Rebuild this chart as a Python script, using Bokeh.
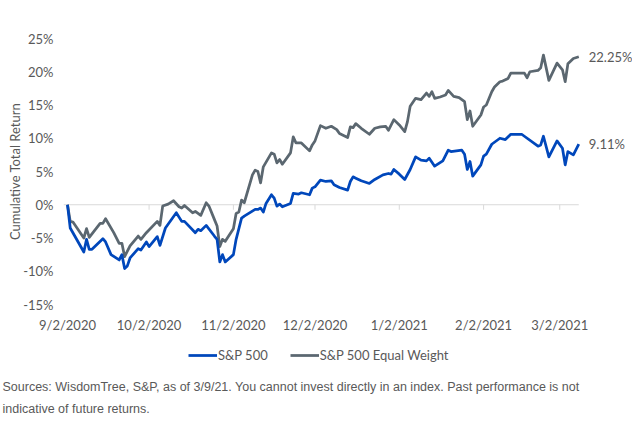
import pandas as pd
from bokeh.plotting import figure
from bokeh.layouts import column
from bokeh.models import (Range1d, FixedTicker, PrintfTickFormatter, Legend, LegendItem,
                          Title, Label, ColumnDataSource)
from bokeh.core.properties import value
from bokeh.embed import file_html
from bokeh.resources import INLINE

# ---------------- data ----------------
eq_dates = ["2020-09-02", "2020-09-03", "2020-09-04", "2020-09-08", "2020-09-09", "2020-09-10",
            "2020-09-14", "2020-09-15", "2020-09-16", "2020-09-19", "2020-09-21", "2020-09-22",
            "2020-09-23", "2020-09-25", "2020-09-28", "2020-09-29", "2020-10-01", "2020-10-05",
            "2020-10-06", "2020-10-07", "2020-10-09", "2020-10-11", "2020-10-13", "2020-10-14",
            "2020-10-15", "2020-10-18", "2020-10-19", "2020-10-21", "2020-10-23", "2020-10-24",
            "2020-10-26", "2020-10-27", "2020-10-28", "2020-10-29", "2020-10-30", "2020-11-02",
            "2020-11-03", "2020-11-04", "2020-11-05", "2020-11-06", "2020-11-09", "2020-11-10",
            "2020-11-11", "2020-11-12", "2020-11-13", "2020-11-16", "2020-11-17", "2020-11-18",
            "2020-11-19", "2020-11-20", "2020-11-23", "2020-11-24", "2020-11-25", "2020-11-27",
            "2020-11-30", "2020-12-01", "2020-12-02", "2020-12-04", "2020-12-06", "2020-12-08",
            "2020-12-10", "2020-12-11", "2020-12-14", "2020-12-15", "2020-12-16", "2020-12-17",
            "2020-12-19", "2020-12-22", "2020-12-24", "2020-12-26", "2020-12-28", "2020-12-29",
            "2020-12-31", "2021-01-02", "2021-01-04", "2021-01-05", "2021-01-06", "2021-01-08",
            "2021-01-10", "2021-01-12", "2021-01-13", "2021-01-14", "2021-01-15", "2021-01-17",
            "2021-01-19", "2021-01-20", "2021-01-22", "2021-01-24", "2021-01-26", "2021-01-27",
            "2021-01-28", "2021-01-29", "2021-02-01", "2021-02-02", "2021-02-03", "2021-02-05",
            "2021-02-06", "2021-02-08", "2021-02-09", "2021-02-11", "2021-02-12", "2021-02-17",
            "2021-02-18", "2021-02-19", "2021-02-22", "2021-02-23", "2021-02-24", "2021-02-26",
            "2021-03-01", "2021-03-03", "2021-03-04", "2021-03-05", "2021-03-07", "2021-03-09"]
eq_values = [0.0, -2.5, -2.6, -5.0, -3.6, -4.9,
             -2.8, -2.8, -2.1, -4.2, -5.8, -5.8,
             -7.8, -6.2, -4.7, -5.2, -4.2, -2.5,
             -3.1, -0.2, 0.1, 0.6, -0.3, -0.5,
             -0.1, -1.2, -1.0, -1.6, 0.3, -0.2,
             -2.2, -3.2, -6.3, -5.2, -5.5, -3.6,
             -1.3, -1.1, 0.7, 0.3, 4.5, 5.2,
             5.0, 3.3, 5.7, 7.8, 7.6, 6.3,
             6.8, 6.1, 7.8, 10.2, 9.3, 9.3,
             8.1, 9.0, 9.6, 11.9, 11.5, 11.8,
             11.3, 10.7, 10.1, 11.7, 11.6, 12.2,
             11.5, 10.6, 11.5, 11.7, 11.8, 11.2,
             12.8, 12.0, 11.0, 12.5, 14.8, 16.0,
             15.8, 16.8, 16.3, 17.0, 16.0, 16.2,
             16.5, 17.2, 16.3, 16.1, 15.5, 12.8,
             14.1, 11.8, 13.5, 14.7, 15.0, 17.0,
             17.7, 18.5, 18.6, 19.0, 19.8, 19.8,
             19.1, 20.0, 20.2, 20.6, 22.5, 18.7,
             21.3, 20.3, 18.5, 21.2, 22.0, 22.25]

sp_dates = ["2020-09-02", "2020-09-03", "2020-09-08", "2020-09-09", "2020-09-10", "2020-09-11",
            "2020-09-15", "2020-09-16", "2020-09-18", "2020-09-21", "2020-09-22", "2020-09-23",
            "2020-09-24", "2020-09-25", "2020-09-28", "2020-09-29", "2020-10-01", "2020-10-02",
            "2020-10-05", "2020-10-06", "2020-10-08", "2020-10-12", "2020-10-14", "2020-10-15",
            "2020-10-19", "2020-10-20", "2020-10-21", "2020-10-23", "2020-10-26", "2020-10-27",
            "2020-10-28", "2020-10-29", "2020-10-30", "2020-11-02", "2020-11-03", "2020-11-05",
            "2020-11-06", "2020-11-10", "2020-11-11", "2020-11-12", "2020-11-13", "2020-11-14",
            "2020-11-16", "2020-11-17", "2020-11-18", "2020-11-19", "2020-11-20", "2020-11-23",
            "2020-11-24", "2020-11-26", "2020-11-27", "2020-11-30", "2020-12-01", "2020-12-02",
            "2020-12-04", "2020-12-06", "2020-12-08", "2020-12-09", "2020-12-11", "2020-12-14",
            "2020-12-15", "2020-12-16", "2020-12-17", "2020-12-19", "2020-12-22", "2020-12-24",
            "2020-12-27", "2020-12-29", "2020-12-30", "2020-12-31", "2021-01-02", "2021-01-04",
            "2021-01-06", "2021-01-08", "2021-01-10", "2021-01-12", "2021-01-13", "2021-01-15",
            "2021-01-18", "2021-01-20", "2021-01-21", "2021-01-23", "2021-01-25", "2021-01-26",
            "2021-01-27", "2021-01-28", "2021-01-29", "2021-02-01", "2021-02-02", "2021-02-03",
            "2021-02-05", "2021-02-08", "2021-02-10", "2021-02-12", "2021-02-16", "2021-02-17",
            "2021-02-22", "2021-02-23", "2021-02-24", "2021-02-26", "2021-03-01", "2021-03-03",
            "2021-03-04", "2021-03-05", "2021-03-07", "2021-03-09"]
sp_values = [0.0, -3.5, -7.1, -5.2, -6.7, -6.7,
             -5.1, -5.6, -7.5, -8.3, -7.5, -9.6,
             -9.2, -8.0, -6.6, -6.8, -5.6, -6.3,
             -4.8, -6.1, -3.5, -1.2, -2.5, -2.5,
             -4.2, -3.7, -3.9, -3.1, -4.7, -5.2,
             -8.6, -7.5, -8.6, -7.5, -5.2, -2.0,
             -1.7, -0.7, -0.7, -0.5, -1.1, 0.2,
             1.5, 1.0, -0.2, 0.1, -0.3, 0.2,
             1.7, 1.6, 1.8, 1.5, 2.5, 2.7,
             3.7, 3.5, 3.6, 3.0, 2.6, 2.2,
             3.5, 4.2, 4.0, 3.6, 3.2, 3.8,
             4.5, 4.7, 4.6, 5.3, 4.6, 3.8,
             5.3, 7.2, 6.7, 6.6, 7.0, 5.8,
             6.6, 8.2, 8.0, 8.1, 8.2, 7.6,
             5.3, 6.5, 4.3, 6.0, 7.3, 7.6,
             9.1, 10.0, 9.8, 10.6, 10.6, 10.3,
             8.8, 9.0, 10.3, 7.2, 9.6, 8.5,
             6.0, 8.0, 7.5, 9.11]

series_names = ["S&P 500", "S&P 500 Equal Weight"]
tick_dates = ["2020-09-02", "2020-10-02", "2020-11-02", "2020-12-02",
              "2021-01-02", "2021-02-02", "2021-03-02"]
tick_labels = ["9/2/2020", "10/2/2020", "11/2/2020", "12/2/2020",
               "1/2/2021", "2/2/2021", "3/2/2021"]
y_ticks = [-15, -10, -5, 0, 5, 10, 15, 20, 25]
y_title = "Cumulative Total Return"
source_lines = ["Sources: WisdomTree, S&P, as of 3/9/21. You cannot invest directly in an index. Past performance is not",
                "indicative of future returns."]

# ---------------- style / layout constants ----------------
BLUE = "#0047BB"
GRAY = "#5B6770"
TXT = "#595959"
FONT = "Lato"
W, H_CHART, H_FOOT = 632, 335, 92
FRAME_LEFT, FRAME_TOP, FRAME_BOTTOM = 63, 38, 305

eq_x = pd.to_datetime(eq_dates)
sp_x = pd.to_datetime(sp_dates)
tk_x = pd.to_datetime(tick_dates)

x_start = pd.Timestamp("2020-08-31 12:40")
x_end = pd.Timestamp("2021-03-28 18:00")

# ---------------- chart ----------------
p = figure(width=W, height=H_CHART, x_axis_type="datetime", output_backend="svg",
           toolbar_location=None, x_range=Range1d(x_start, x_end), y_range=Range1d(-15, 25),
           min_border_left=FRAME_LEFT, min_border_right=0, min_border_top=FRAME_TOP,
           min_border_bottom=H_CHART - FRAME_BOTTOM)
p.frame_align = False
p.outline_line_color = None
p.grid.visible = False
p.background_fill_color = "white"
p.border_fill_color = "white"

# zero line and tick marks
p.segment(x0=[x_start], y0=[0], x1=[sp_x[-1]], y1=[0], line_color="#D9D9D9", line_width=1)
p.segment(x0=tk_x, y0=0, x1=tk_x, y1=-0.75, line_color="#D9D9D9", line_width=1)

p.line(eq_x, eq_values, line_color=GRAY, line_width=2.75, line_join="round")
p.line(sp_x, sp_values, line_color=BLUE, line_width=2.75, line_join="round")

# end labels
end_src = ColumnDataSource(dict(x=[eq_x[-1], sp_x[-1]], y=[eq_values[-1], sp_values[-1]],
                                t=["%.2f%%" % eq_values[-1], "%.2f%%" % sp_values[-1]]))
p.text(x="x", y="y", text="t", source=end_src, x_offset=10, text_align="left",
       text_baseline="middle", text_color=TXT, text_font=value(FONT), text_font_size="13px")

xa = p.xaxis[0]
xa.ticker = FixedTicker(ticks=[t.timestamp() * 1000 for t in tk_x])
xa.major_label_overrides = {t.timestamp() * 1000: lab for t, lab in zip(tk_x, tick_labels)}
xa.axis_line_color = None
xa.major_tick_line_color = None
xa.minor_tick_line_color = None
xa.major_tick_out = 0
xa.minor_tick_out = 0
xa.major_label_standoff = 12
xa.major_label_text_font = FONT
xa.major_label_text_font_size = "13px"
xa.major_label_text_color = TXT

ya = p.yaxis[0]
ya.ticker = FixedTicker(ticks=y_ticks)
ya.formatter = PrintfTickFormatter(format="%d%%")
ya.axis_line_color = None
ya.major_tick_line_color = None
ya.minor_tick_line_color = None
ya.major_tick_out = 0
ya.minor_tick_out = 0
ya.major_label_standoff = 10
ya.major_label_text_font = FONT
ya.major_label_text_font_size = "13px"
ya.major_label_text_color = TXT

p.add_layout(Title(text=y_title, align="center",
                   offset=(FRAME_TOP + FRAME_BOTTOM) / 2 - 153, standoff=-5,
                   text_font=FONT, text_font_size="13px", text_font_style="normal",
                   text_color=TXT), "left")

# ---------------- footer: legend + source note ----------------
f = figure(width=W, height=H_FOOT, x_axis_type=None, y_axis_type=None, output_backend="svg",
           toolbar_location=None, x_range=Range1d(0, 1), y_range=Range1d(0, 1),
           min_border=0)
f.frame_align = False
f.outline_line_color = None
f.grid.visible = False
f.background_fill_color = "white"
f.border_fill_color = "white"

# legend keys: the same two series (outside this strip's view, only their swatches show)
k_sp = f.line(sp_x, sp_values, line_color=BLUE, line_width=2.75)
k_eq = f.line(eq_x, eq_values, line_color=GRAY, line_width=2.75)
legend = Legend(items=[LegendItem(label=series_names[0], renderers=[k_sp]),
                       LegendItem(label=series_names[1], renderers=[k_eq])],
                orientation="horizontal", location=(188, H_FOOT - 20 - 8),
                label_text_font=FONT, label_text_font_size="13px", label_text_color=TXT,
                glyph_width=29, glyph_height=14, label_standoff=1, spacing=22,
                border_line_color=None, background_fill_alpha=0, padding=0, margin=0)
f.add_layout(legend)

for i, line in enumerate(source_lines):
    f.add_layout(Label(x=2, y=H_FOOT - 51 - 22 * i, x_units="screen", y_units="screen",
                       text=line, text_align="left", text_baseline="middle",
                       text_font="Liberation Sans", text_font_size="12.5px", text_color=TXT))

layout = column(p, f, spacing=0)
open("out.html", "w").write(file_html(layout, INLINE))
